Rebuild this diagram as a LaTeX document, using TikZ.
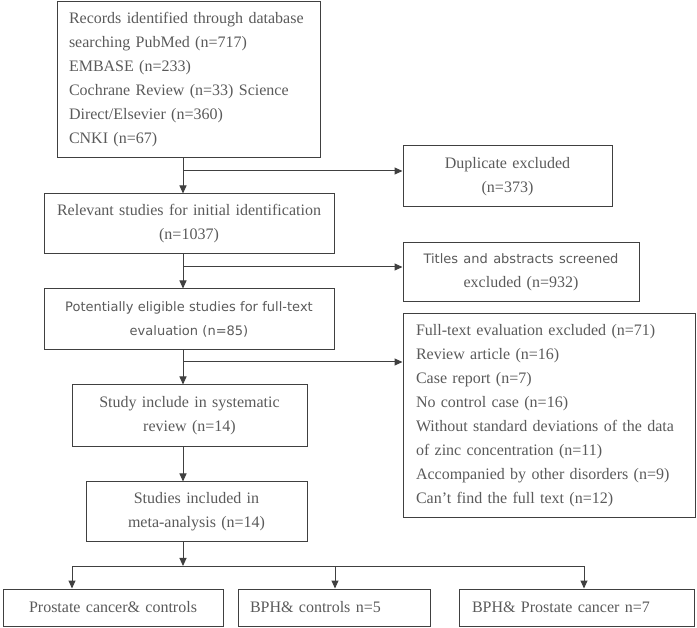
\documentclass[tikz,border=0pt]{standalone}
\usepackage{fontspec}
\setmainfont{Liberation Serif}
\newfontfamily\sansf{DejaVu Sans}
\usetikzlibrary{arrows.meta}
\definecolor{linec}{HTML}{404040}
\definecolor{textc}{HTML}{5A5A5A}
\begin{document}
\begin{tikzpicture}[x=1pt,y=-1pt,
  box/.style={draw=linec, line width=1pt, text=textc, rectangle,
    font=\fontsize{16}{24}\selectfont, inner sep=0pt},
  sfont/.style={font=\sansf\fontsize{13}{24}\selectfont},
  conn/.style={draw=linec, line width=1pt},
  arr/.style={conn, -{Triangle[length=8pt,width=7pt]}}]
\useasboundingbox (0,0) rectangle (697,628);
\node[box, minimum width=263pt, minimum height=156pt, text width=239pt, align=left] (rec) at (188.5,80)
  {Records identified through database\\ searching PubMed (n=717)\\ EMBASE (n=233)\\ Cochrane Review (n=33) Science\\ Direct/Elsevier (n=360)\\ CNKI (n=67)};
\node[box, minimum width=209pt, minimum height=61pt, text width=200pt, align=center] (dup) at (507.5,176.5)
  {Duplicate excluded\\(n=373)};
\node[box, minimum width=290pt, minimum height=60pt, text width=280pt, align=center] (rel) at (189,224)
  {Relevant studies for initial identification\\(n=1037)};
\node[box, minimum width=236pt, minimum height=59pt, text width=226pt, align=center] (tit) at (521,272.5)
  {{\sansf\fontsize{13}{24}\selectfont Titles and abstracts screened}\\excluded (n=932)};
\node[box, sfont, minimum width=290pt, minimum height=61pt, text width=280pt, align=center] (pot) at (189,319.5)
  {Potentially eligible studies for full-text\\evaluation (n=85)};
\node[box, minimum width=292pt, minimum height=204pt, text width=266pt, align=left] (ful) at (549,416)
  {Full-text evaluation excluded (n=71)\\ Review article (n=16)\\ Case report (n=7)\\ No control case (n=16)\\
   \makebox[266pt][s]{Without standard deviations of the data}\\ of zinc concentration (n=11)\\
   Accompanied by other disorders (n=9)\\ Can't find the full text (n=12)};
\node[box, minimum width=235pt, minimum height=62pt, text width=225pt, align=center] (sys) at (189.5,416)
  {Study include in systematic\\review (n=14)};
\node[box, minimum width=221pt, minimum height=60pt, text width=211pt, align=center] (meta) at (196.5,512)
  {Studies included in\\meta-analysis (n=14)};
\node[box, minimum width=220pt, minimum height=37pt, text width=210pt, align=center] (pcc) at (113,607.5)
  {Prostate cancer\& controls};
\node[box, minimum width=192pt, minimum height=37pt, text width=168pt, align=left] (bcc) at (334,607.5)
  {BPH\& controls n=5};
\node[box, minimum width=235pt, minimum height=37pt, text width=209pt, align=left] (bpc) at (576.5,607.5)
  {BPH\& Prostate cancer n=7};
% connectors
\coordinate (sp) at (183,0);
\coordinate (j1) at (183,171);
\coordinate (j2) at (183,267);
\coordinate (j3) at (183,362);
\coordinate (j4) at (183,566);
\coordinate (d1) at (72,566);
\coordinate (d2) at (335,566);
\coordinate (d3) at (584,566);
\draw[arr] (rec.south -| sp) -- (rel.north -| sp);
\draw[arr] (j1) -- (dup.west |- j1);
\draw[arr] (rel.south -| sp) -- (pot.north -| sp);
\draw[arr] (j2) -- (tit.west |- j2);
\draw[arr] (pot.south -| sp) -- (sys.north -| sp);
\draw[arr] (j3) -- (ful.west |- j3);
\draw[arr] (sys.south -| sp) -- (meta.north -| sp);
\draw[arr] (meta.south -| sp) -- (j4);
\draw[conn] (d1) -- (d3);
\draw[arr] (d1) -- (pcc.north -| d1);
\draw[arr] (d2) -- (bcc.north -| d2);
\draw[arr] (d3) -- (bpc.north -| d3);
\end{tikzpicture}
\end{document}
